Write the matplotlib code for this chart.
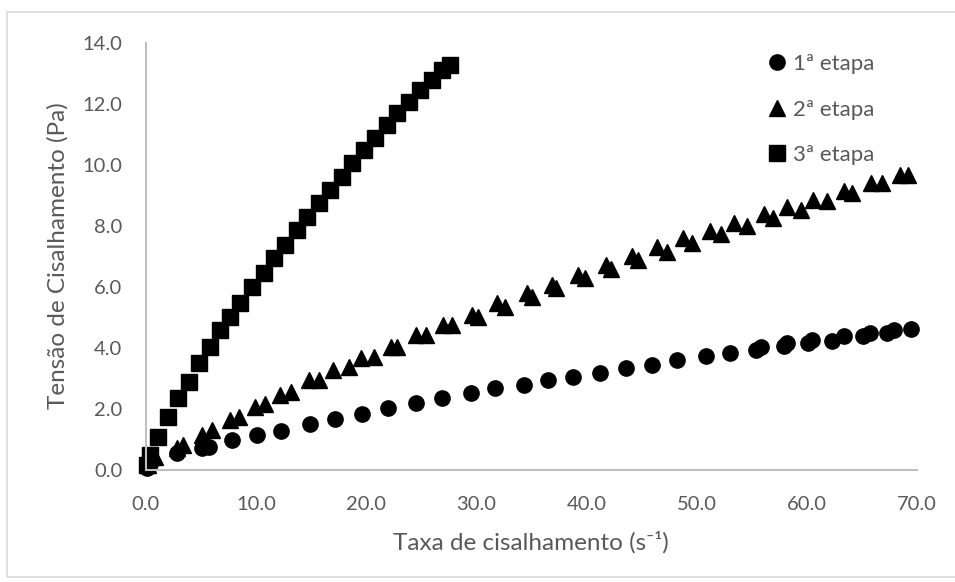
import matplotlib
matplotlib.use("Agg")
import matplotlib.pyplot as plt
from matplotlib.patches import Rectangle

plt.rcParams['font.family'] = ['Lato', 'DejaVu Sans']

# 1ª etapa (circles)
x_etapa1 = [0.1, 0.4, 2.8, 5.1, 5.7, 7.8, 10.1, 12.3, 14.9, 17.2, 19.6, 22.0, 24.5,
            26.9, 29.5, 31.7, 34.3, 36.5, 38.8, 41.2, 43.6, 45.9, 48.2, 50.8, 53.0,
            55.4, 55.8, 57.9, 58.2, 60.1, 60.5, 62.3, 63.4, 65.1, 65.7, 67.3, 67.9, 69.5]
y_etapa1 = [0.05, 0.2, 0.55, 0.71, 0.76, 0.98, 1.15, 1.29, 1.51, 1.66, 1.85, 2.02, 2.19,
            2.35, 2.51, 2.68, 2.79, 2.95, 3.06, 3.19, 3.33, 3.44, 3.61, 3.74, 3.85,
            3.93, 4.02, 4.07, 4.15, 4.15, 4.26, 4.23, 4.39, 4.39, 4.48, 4.50, 4.59, 4.62]

# 2ª etapa (triangles)
x_etapa2 = [0.2, 0.8, 2.8, 3.4, 5.1, 6.0, 7.6, 8.4, 9.9, 10.8, 12.2, 13.2, 14.8, 15.7,
            17.0, 18.4, 19.5, 20.7, 22.2, 22.8, 24.5, 25.4, 27.0, 27.8, 29.6, 30.1,
            31.9, 32.6, 34.6, 35.0, 36.9, 37.2, 39.2, 39.9, 41.8, 42.2, 44.1, 44.7,
            46.4, 47.3, 48.8, 49.6, 51.2, 52.2, 53.4, 54.6, 56.1, 56.9, 58.2, 59.5,
            60.6, 61.8, 63.4, 64.1, 65.8, 66.8, 68.5, 69.2]
y_etapa2 = [0.15, 0.44, 0.71, 0.82, 1.15, 1.31, 1.64, 1.73, 2.08, 2.16, 2.46, 2.57, 2.95, 2.95,
            3.28, 3.37, 3.66, 3.71, 4.04, 4.04, 4.43, 4.43, 4.75, 4.75, 5.08, 5.03,
            5.46, 5.35, 5.79, 5.68, 6.07, 5.96, 6.39, 6.28, 6.72, 6.58, 7.02, 6.89,
            7.30, 7.16, 7.60, 7.43, 7.84, 7.73, 8.09, 8.00, 8.39, 8.25, 8.61, 8.54,
            8.85, 8.82, 9.16, 9.09, 9.40, 9.40, 9.67, 9.67]

# 3ª etapa (squares)
x_etapa3 = [0.1, 0.4, 1.1, 2.0, 2.9, 3.9, 4.8, 5.8, 6.7, 7.6, 8.5, 9.6, 10.7, 11.6, 12.6,
            13.7, 14.6, 15.7, 16.7, 17.8, 18.7, 19.8, 20.8, 21.9, 22.8, 23.9, 24.9,
            26.0, 26.9, 27.6]
y_etapa3 = [0.15, 0.5, 1.09, 1.75, 2.35, 2.90, 3.50, 4.04, 4.59, 5.03, 5.46, 6.01, 6.45, 6.94, 7.38,
            7.87, 8.31, 8.74, 9.18, 9.62, 10.06, 10.49, 10.87, 11.31, 11.69, 12.08, 12.46,
            12.79, 13.11, 13.28]

labels = ['1ª etapa', '2ª etapa', '3ª etapa']
x_ticks = [0, 10, 20, 30, 40, 50, 60, 70]
y_ticks = [0, 2, 4, 6, 8, 10, 12, 14]

text_color = '#595959'
axis_color = '#bfbfbf'

W, H = 955, 582
fig = plt.figure(figsize=(W / 100, H / 100), dpi=100)
# chart area border (runs off the right edge like the original)
fig.patches.append(Rectangle((7 / W, 0.008), 1.2, 1 - 0.008 - 12 / H, transform=fig.transFigure,
                             fill=False, edgecolor='#d9d9d9', linewidth=1.2))

ax = fig.add_axes([146 / W, (H - 470) / H, (917 - 146) / W, (470 - 43) / H])

ax.plot(x_etapa1, y_etapa1, 'o', color='black', markersize=11, label=labels[0])
ax.plot(x_etapa2, y_etapa2, '^', color='black', markersize=11, label=labels[1])
ax.plot(x_etapa3, y_etapa3, 's', color='black', markersize=11.5, label=labels[2])

ax.set_xlim(0, 70)
ax.set_ylim(0, 14)
ax.set_xticks(x_ticks)
ax.set_yticks(y_ticks)
ax.set_xticklabels([f'{v:.1f}' for v in x_ticks])
ax.set_yticklabels([f'{v:.1f}' for v in y_ticks])
ax.tick_params(length=0, labelsize=14.5, labelcolor=text_color)
ax.tick_params(axis='x', pad=19)
ax.tick_params(axis='y', pad=17)

for side in ['top', 'right']:
    ax.spines[side].set_visible(False)
for side in ['left', 'bottom']:
    ax.spines[side].set_color(axis_color)
    ax.spines[side].set_linewidth(1.5)
for line in ax.lines:
    line.set_clip_on(False)

fig.text(531 / W, 1 - 542 / H, 'Taxa de cisalhamento (s⁻¹)', fontsize=17.5, color=text_color,
         ha='center', va='center')
fig.text(58 / W, 1 - 256 / H, 'Tensão de Cisalhamento (Pa)', fontsize=17.5, color=text_color,
         ha='center', va='center', rotation=90)

ax.legend(loc='upper left', bbox_to_anchor=(757 / W, 1 - 43 / H), bbox_transform=fig.transFigure,
          frameon=False, fontsize=16, labelcolor=text_color, handlelength=0.8,
          handletextpad=0.3, labelspacing=1.15, borderpad=0)

fig.savefig('out.png', dpi=100)
